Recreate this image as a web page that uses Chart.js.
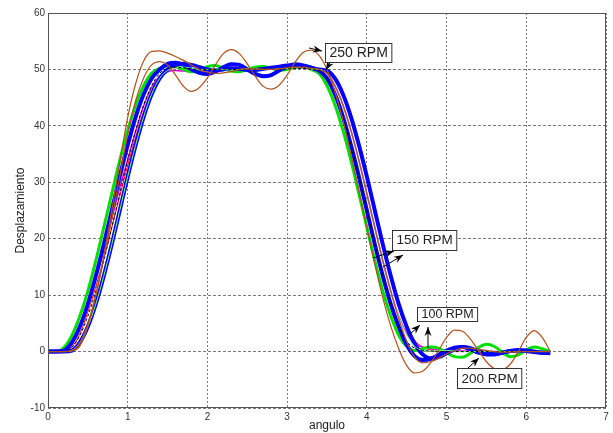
<!DOCTYPE html>
<html>
<head>
<meta charset="utf-8">
<script src="https://cdn.jsdelivr.net/npm/chart.js@4.4.1/dist/chart.umd.min.js"></script>
<style>
  html, body { margin: 0; padding: 0; background: #fff; }
  canvas { display: block; }
</style>
</head>
<body>
<canvas id="chart" width="613" height="433"></canvas>
<script>
// x values (rad), shared by all curves
const angulo = [
  0.0, 0.1, 0.2, 0.3, 0.4, 0.5, 0.6, 0.7, 0.8, 0.9,
  1.0, 1.1, 1.2, 1.3, 1.4, 1.5, 1.6, 1.7, 1.8, 1.9,
  2.0, 2.1, 2.2, 2.3, 2.4, 2.5, 2.6, 2.7, 2.8, 2.9,
  3.0, 3.1, 3.2, 3.3, 3.4, 3.5, 3.6, 3.7, 3.8, 3.9,
  4.0, 4.1, 4.2, 4.3, 4.4, 4.5, 4.6, 4.7, 4.8, 4.9,
  5.0, 5.1, 5.2, 5.3, 5.4, 5.5, 5.6, 5.7, 5.8, 5.9,
  6.0, 6.1, 6.2, 6.3
];

const azulA = [
  0, 0, 0.18, 1.62, 4.43, 8.43, 13.4, 19.0, 25.0, 31.0,
  36.6, 41.6, 45.6, 48.4, 50.0, 51.0, 51.2, 50.8, 50.0, 49.4,
  49.2, 49.6, 50.4, 50.9, 50.8, 50.0, 49.2, 48.8, 49.0, 49.8,
  50.5, 50.9, 50.7, 50.3, 49.8, 48.4, 45.6, 41.6, 36.6, 31.0,
  25.0, 19.0, 13.4, 8.4, 4.4, 1.2, -0.8, -1.5, -1.3, -0.6,
  0.2, 0.7, 0.8, 0.4, -0.2, -0.5, -0.5, -0.2, 0.1, 0.3,
  0.2, 0, -0.2, -0.3
];
const azulB = [
  0, 0, 0, 0.18, 1.62, 4.43, 8.43, 13.4, 19.0, 25.0,
  31.0, 36.6, 41.6, 45.6, 48.4, 50.0, 50.8, 51.0, 50.8, 50.4,
  50.0, 49.9, 50.0, 50.2, 50.1, 49.9, 49.9, 50.1, 50.3, 50.5,
  50.7, 50.8, 50.6, 50.3, 50.0, 49.8, 48.4, 45.6, 41.6, 36.6,
  31.0, 25.0, 19.0, 13.4, 8.4, 4.4, 1.4, -0.5, -1.2, -1.0,
  -0.3, 0.4, 0.8, 0.6, 0.1, -0.3, -0.4, -0.2, 0.1, 0.2,
  0.1, -0.1, -0.2, -0.2
];
const verde = [
  0, 0, 0.73, 2.86, 6.29, 10.7, 16.1, 22.0, 28.0, 33.9,
  39.2, 43.7, 47.1, 49.3, 50.2, 50.6, 50.5, 50.0, 49.6, 49.8,
  50.5, 50.7, 50.2, 49.7, 49.6, 50.0, 50.4, 50.5, 50.2, 49.9,
  50.0, 50.4, 50.5, 50.0, 49.3, 47.1, 43.7, 39.2, 33.9, 28.0,
  22.0, 16.1, 10.7, 6.3, 2.9, 0.9, 0.2, 0.5, 0.8, 0.6,
  -0.2, -0.9, -1.0, -0.3, 0.7, 1.3, 0.9, -0.1, -0.9, -0.6,
  0.3, 0.8, 0.5, 0.0
];
const verdeClaro = [
  0, 0, 0, 0.18, 1.62, 4.43, 8.43, 13.4, 19.0, 25.0,
  31.0, 36.6, 41.6, 45.6, 48.4, 49.8, 50.3, 50.4, 50.2, 50.0,
  50.0, 50.1, 50.0, 49.9, 50.0, 50.1, 50.1, 50.0, 50.0, 50.1,
  50.2, 50.3, 50.2, 50.0, 50.0, 49.3, 47.1, 43.7, 39.2, 33.9,
  28.0, 22.0, 16.1, 10.7, 6.3, 2.9, 0.9, 0.2, 0.1, 0.2,
  0.2, 0.1, 0, 0, 0, 0, 0, 0, 0, 0,
  0, 0, 0, 0
];
const magenta = [
  0, 0, 0.2, 1.2, 4.5, 8.5, 13.0, 18.0, 23.5, 29.0,
  34.0, 39.0, 43.5, 46.8, 48.8, 49.6, 49.8, 49.7, 49.6, 49.7,
  49.9, 50.0, 50.0, 49.9, 49.8, 49.9, 50.0, 50.1, 50.1, 50.0,
  50.1, 50.2, 50.2, 50.0, 50.0, 49.3, 47.1, 43.7, 39.2, 33.9,
  28.0, 22.0, 16.1, 10.7, 6.3, 3.2, 1.5, 0.8, 0.5, 0.3,
  0.2, 0.2, 0.1, 0.1, 0, 0, 0, 0, 0, 0,
  0, 0, 0, 0
];
const rojo = [
  0, 0, 0.1, 0.8, 3.2, 7.0, 11.5, 16.5, 22.0, 27.5,
  33.0, 38.0, 42.5, 46.0, 48.5, 49.8, 50.3, 50.2, 50.0, 49.9,
  50.0, 50.1, 50.1, 50.0, 49.9, 49.9, 50.0, 50.1, 50.2, 50.2,
  50.3, 50.3, 50.2, 50.1, 50.0, 49.8, 48.4, 45.6, 41.6, 36.6,
  31.0, 25.0, 19.0, 13.4, 8.4, 4.6, 2.0, 0.8, 0.3, 0.2,
  0.1, 0, 0, 0, 0, 0, 0, 0, 0, 0,
  0, 0, 0, 0
];
const negro = [
  0, 0, 0, 0.73, 2.86, 6.29, 10.7, 16.1, 22.0, 28.0,
  33.9, 39.2, 43.7, 47.1, 49.3, 50.2, 50.4, 50.3, 50.1, 50.0,
  50.0, 50.0, 50.1, 50.0, 50.0, 50.0, 50.1, 50.1, 50.0, 50.0,
  50.1, 50.2, 50.2, 50.0, 49.8, 48.4, 45.6, 41.6, 36.6, 31.0,
  25.0, 19.0, 13.4, 8.4, 4.4, 1.8, 0.6, 0.2, 0.1, 0,
  0, 0, 0, 0, 0, 0, 0, 0, 0, 0,
  0, 0, 0, 0
];
const marronA = [
  0, 0, 0, 0.1, 1.0, 4.5, 10.0, 17.0, 25.0, 33.5,
  41.5, 47.5, 51.5, 53.2, 53.3, 52.9, 52.3, 51.6, 50.8, 50.0,
  49.5, 49.3, 49.4, 49.6, 50.0, 50.1, 50.1, 50.0, 50.0, 50.1,
  50.3, 50.4, 50.4, 50.2, 50.0, 49.3, 47.1, 43.7, 39.2, 33.9,
  28.0, 22.0, 16.1, 10.7, 5.8, 1.8, -1.0, -2.0, -1.8, -1.2,
  -0.4, 0.2, 0.6, 0.6, 0.4, 0.2, 0.0, -0.1, -0.1, 0,
  0, 0, 0, 0
];
const marronB = [
  0, 0, 0, 0.2, 1.5, 5.0, 10.0, 16.5, 23.5, 31.0,
  38.5, 44.5, 48.5, 50.8, 51.4, 50.8, 49.0, 47.0, 46.1, 46.8,
  48.5, 50.8, 52.8, 53.5, 52.8, 51.0, 48.8, 47.0, 46.5, 47.2,
  49.0, 51.3, 53.0, 53.4, 52.5, 50.0, 46.0, 41.0, 35.0, 28.5,
  22.0, 15.5, 9.5, 4.5, 0.5, -2.5, -3.8, -3.5, -2.0, 0.2,
  2.5, 3.8, 3.6, 2.2, 0.2, -1.8, -3.0, -3.2, -2.2, 0.0,
  2.5, 3.7, 2.5, 0.0
];

const xTicks = [0, 1, 2, 3, 4, 5, 6, 7];
const yTicks = [-10, 0, 10, 20, 30, 40, 50, 60];

// text boxes: left edge and vertical centre, in data units
const etiquetas = [
  { text: '250 RPM', x: 3.475, y: 53.0, size: 14, h: 19 },
  { text: '150 RPM', x: 4.316, y: 19.86, size: 13.5, h: 20 },
  { text: '100 RPM', x: 4.629, y: 6.66, size: 12.5, h: 14 },
  { text: '200 RPM', x: 5.131, y: -4.68, size: 13.5, h: 20 }
];
// arrows: tail -> head, in data units
const flechas = [
  { from: [3.274, 53.8], to: [3.437, 53.26] },
  { from: [3.55, 51.49], to: [3.487, 49.9] },
  { from: [4.077, 16.58], to: [4.341, 17.82] },
  { from: [4.203, 14.99], to: [4.454, 17.11] },
  { from: [4.542, 3.11], to: [4.667, 4.71] },
  { from: [4.767, 0.63], to: [4.767, 4.35] },
  { from: [5.269, -2.91], to: [5.407, -1.14] }
];

function pts(ys) {
  return ys.map((y, i) => ({ x: angulo[i], y: y }));
}

function serie(ys, color, width, dash) {
  return {
    data: pts(ys),
    borderColor: color,
    borderWidth: width,
    borderDash: dash || [],
    pointRadius: 0,
    fill: false,
    cubicInterpolationMode: 'monotone'
  };
}

const decoracion = {
  id: 'decoracion',
  afterDatasetsDraw(chart) {
    const ctx = chart.ctx;
    const xs = chart.scales.x;
    const ys = chart.scales.y;
    const a = chart.chartArea;

    // axes box
    ctx.save();
    ctx.strokeStyle = '#555';
    ctx.lineWidth = 1;
    ctx.setLineDash([]);
    ctx.strokeRect(a.left + 0.5, a.top + 0.5, a.right - a.left - 1, a.bottom - a.top - 1);

    // arrows
    ctx.strokeStyle = '#000';
    ctx.fillStyle = '#000';
    flechas.forEach(f => {
      const x1 = xs.getPixelForValue(f.from[0]);
      const y1 = ys.getPixelForValue(f.from[1]);
      const x2 = xs.getPixelForValue(f.to[0]);
      const y2 = ys.getPixelForValue(f.to[1]);
      const ang = Math.atan2(y2 - y1, x2 - x1);
      ctx.beginPath();
      ctx.moveTo(x1, y1);
      ctx.lineTo(x2, y2);
      ctx.stroke();
      const len = 9, w = 3.5;
      ctx.beginPath();
      ctx.moveTo(x2, y2);
      ctx.lineTo(x2 - len * Math.cos(ang) + w * Math.sin(ang), y2 - len * Math.sin(ang) - w * Math.cos(ang));
      ctx.lineTo(x2 - len * 0.7 * Math.cos(ang), y2 - len * 0.7 * Math.sin(ang));
      ctx.lineTo(x2 - len * Math.cos(ang) - w * Math.sin(ang), y2 - len * Math.sin(ang) + w * Math.cos(ang));
      ctx.closePath();
      ctx.fill();
    });

    // text boxes
    etiquetas.forEach(e => {
      ctx.font = e.size + 'px Arial, "Liberation Sans", sans-serif';
      const tw = ctx.measureText(e.text).width;
      const left = Math.round(xs.getPixelForValue(e.x)) + 0.5;
      const cy = ys.getPixelForValue(e.y);
      const top = Math.round(cy - e.h / 2) + 0.5;
      ctx.fillStyle = '#fff';
      ctx.fillRect(left, top, tw + 8, e.h);
      ctx.strokeStyle = '#333';
      ctx.strokeRect(left, top, tw + 8, e.h);
      ctx.fillStyle = '#222';
      ctx.textBaseline = 'middle';
      ctx.textAlign = 'left';
      ctx.fillText(e.text, left + 4, cy + 1);
    });
    ctx.restore();
  }
};

const tickFont = { family: 'Arial, "Liberation Sans", sans-serif', size: 10 };

new Chart(document.getElementById('chart'), {
  type: 'line',
  data: {
    datasets: [
      serie(marronA, '#b0521c', 1.2),
      serie(marronB, '#b0521c', 1.2),
      serie(negro, '#000000', 1, [3, 2]),
      serie(verdeClaro, '#7dff7d', 1),
      serie(azulA, '#0000ff', 4),
      serie(azulB, '#0000ff', 4),
      serie(verde, '#00e000', 3),
      serie(magenta, '#e000e0', 1.5),
      serie(rojo, '#ff0000', 1)
    ]
  },
  options: {
    responsive: false,
    animation: false,
    events: [],
    layout: { padding: { top: 13, right: 7, left: 0, bottom: 0 } },
    plugins: {
      legend: { display: false },
      tooltip: { enabled: false }
    },
    scales: {
      x: {
        type: 'linear',
        min: 0,
        max: 7,
        afterFit(scale) { scale.height = 25; },
        afterBuildTicks(scale) { scale.ticks = xTicks.map(v => ({ value: v })); },
        ticks: { color: '#333', font: tickFont, padding: 3, autoSkip: false, maxRotation: 0 },
        grid: { color: '#7a7a7a', drawTicks: false, lineWidth: 1 },
        border: { display: false, dash: [2, 2] },
        title: {
          display: true,
          text: 'angulo',
          color: '#222',
          font: { family: 'Arial, "Liberation Sans", sans-serif', size: 12 },
          padding: { top: 0, bottom: 0 }
        }
      },
      y: {
        type: 'linear',
        min: -10,
        max: 60,
        afterFit(scale) { scale.width = 48; },
        afterBuildTicks(scale) { scale.ticks = yTicks.map(v => ({ value: v })); },
        ticks: { color: '#333', font: tickFont, padding: 3 },
        grid: { color: '#7a7a7a', drawTicks: false, lineWidth: 1 },
        border: { display: false, dash: [3, 2] },
        title: {
          display: true,
          text: 'Desplazamiento',
          color: '#222',
          font: { family: 'Arial, "Liberation Sans", sans-serif', size: 12 },
          padding: { top: 13, bottom: 0 }
        }
      }
    }
  },
  plugins: [decoracion]
});
</script>
</body>
</html>
